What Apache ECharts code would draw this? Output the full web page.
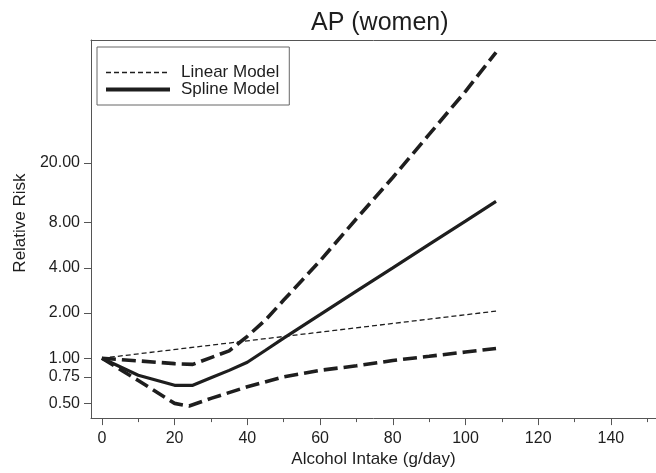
<!DOCTYPE html>
<html>
<head>
<meta charset="utf-8">
<script src="https://cdn.jsdelivr.net/npm/echarts@6/dist/echarts.min.js"></script>
<style>
html,body{margin:0;padding:0;background:#fff;}
#chart{width:656px;height:473px;}
</style>
</head>
<body>
<div id="chart"></div>
<script>
// ---- data ----
const xLinear = [0, 108.4];
const rrLinear = [1.00, 2.06];

const xSpline = [0, 10, 20, 25, 30, 35, 40, 45, 50, 60, 70, 80, 90, 100, 108.4];
const rrSpline = [1.00, 0.77, 0.66, 0.66, 0.74, 0.83, 0.94, 1.13, 1.36, 1.95, 2.80, 4.00, 5.74, 8.20, 11.1];

const xUpper = [0, 10, 20, 25, 30, 35, 40, 45, 50, 60, 70, 80, 90, 100, 108.4];
const rrUpper = [1.00, 0.96, 0.92, 0.91, 1.01, 1.12, 1.40, 1.80, 2.44, 4.45, 8.5, 16, 31, 60, 109];

const xLower = [0, 10, 20, 24, 30, 40, 50, 60, 70, 80, 90, 100, 108.4];
const rrLower = [1.00, 0.71, 0.50, 0.48, 0.54, 0.645, 0.75, 0.83, 0.89, 0.965, 1.03, 1.10, 1.16];

const xMajorTicks = [0, 20, 40, 60, 80, 100, 120, 140];
const xMinorTicks = [10, 30, 50, 70, 90, 110, 130, 150];
const yTicks = [0.5, 0.75, 1, 2, 4, 8, 20];

const titleText = 'AP (women)';
const xName = 'Alcohol Intake (g/day)';
const yName = 'Relative Risk';
const legendLinear = 'Linear Model';
const legendSpline = 'Spline Model';

// ---- build ----
const pairs = (xs, ys) => xs.map((x, i) => [x, ys[i]]);
const FONT = '"Liberation Sans", Arial, Helvetica, sans-serif';
const INK = '#1e1e1e';
const AXIS = '#555';
const X_MIN = -3, X_MAX = 152.4, Y_MIN = 0.399, Y_MAX = 131.9;

const chart = echarts.init(document.getElementById('chart'), null, {renderer: 'canvas'});
chart.setOption({
  animation: false,
  backgroundColor: '#fff',
  textStyle: {fontFamily: FONT},
  title: {
    text: titleText,
    left: 311, top: 11, padding: 0,
    textStyle: {fontFamily: FONT, fontSize: 25, fontWeight: 'normal', color: INK}
  },
  legend: {
    orient: 'vertical',
    left: 97, top: 47,
    padding: [17, 10, 7, 7],
    borderColor: '#666', borderWidth: 1,
    itemWidth: 64, itemHeight: 12, itemGap: 0,
    itemStyle: {opacity: 0, borderWidth: 0},
    data: [
      {name: legendLinear, lineStyle: {width: 1.3, type: [5, 3], color: INK}},
      {name: legendSpline, lineStyle: {width: 4, type: 'solid', color: INK}}
    ],
    textStyle: {fontFamily: FONT, fontSize: 17, color: INK, padding: [0, 0, 0, 6], lineHeight: 12},
    selectedMode: false
  },
  grid: {left: 91, top: 40, right: 0, bottom: 48, containLabel: false},
  xAxis: [
    {
      type: 'value', position: 'bottom', min: X_MIN, max: X_MAX,
      name: xName, nameLocation: 'middle', nameGap: 30,
      nameTextStyle: {fontFamily: FONT, fontSize: 17, color: INK},
      axisLine: {show: true, onZero: false, lineStyle: {color: AXIS, width: 1}},
      axisTick: {show: true, length: 7, customValues: xMajorTicks, lineStyle: {color: AXIS}},
      axisLabel: {customValues: xMajorTicks, margin: 12, fontFamily: FONT, fontSize: 16, color: INK},
      splitLine: {show: false}
    },
    {
      type: 'value', position: 'bottom', min: X_MIN, max: X_MAX,
      axisLine: {show: false, onZero: false},
      axisTick: {show: true, length: 4, customValues: xMinorTicks, lineStyle: {color: AXIS}},
      axisLabel: {show: false},
      splitLine: {show: false}
    },
    {
      type: 'value', position: 'top', min: X_MIN, max: X_MAX,
      axisLine: {show: true, onZero: false, lineStyle: {color: AXIS, width: 1}},
      axisTick: {show: false},
      axisLabel: {show: false},
      splitLine: {show: false}
    }
  ],
  yAxis: {
    type: 'log', logBase: 2, min: Y_MIN, max: Y_MAX,
    name: yName, nameLocation: 'middle', nameGap: 62, nameRotate: 90,
    nameTextStyle: {fontFamily: FONT, fontSize: 17, color: INK, padding: [0, 0, 0, 12]},
    axisLine: {show: true, onZero: false, lineStyle: {color: AXIS, width: 1}},
    axisTick: {show: true, length: 7, customValues: yTicks, lineStyle: {color: AXIS}},
    axisLabel: {customValues: yTicks, margin: 11, fontFamily: FONT, fontSize: 16, color: INK,
      formatter: v => Number(v).toFixed(2)},
    splitLine: {show: false}
  },
  series: [
    {
      name: legendLinear, type: 'line', xAxisIndex: 0, symbol: 'none', silent: true,
      data: pairs(xLinear, rrLinear), z: 3,
      lineStyle: {color: INK, width: 1.3, type: [5, 3]}, itemStyle: {color: INK}
    },
    {
      name: legendSpline, type: 'line', xAxisIndex: 0, symbol: 'none', silent: true,
      data: pairs(xSpline, rrSpline), z: 4,
      lineStyle: {color: INK, width: 3.2, type: 'solid'}, itemStyle: {color: INK}
    },
    {
      name: 'Upper CI', type: 'line', xAxisIndex: 0, symbol: 'none', silent: true,
      data: pairs(xUpper, rrUpper), z: 2,
      lineStyle: {color: INK, width: 3.6, type: [14, 6]}, itemStyle: {color: INK}
    },
    {
      name: 'Lower CI', type: 'line', xAxisIndex: 0, symbol: 'none', silent: true,
      data: pairs(xLower, rrLower), z: 2,
      lineStyle: {color: INK, width: 3.6, type: [14, 6]}, itemStyle: {color: INK}
    }
  ]
});
</script>
</body>
</html>
